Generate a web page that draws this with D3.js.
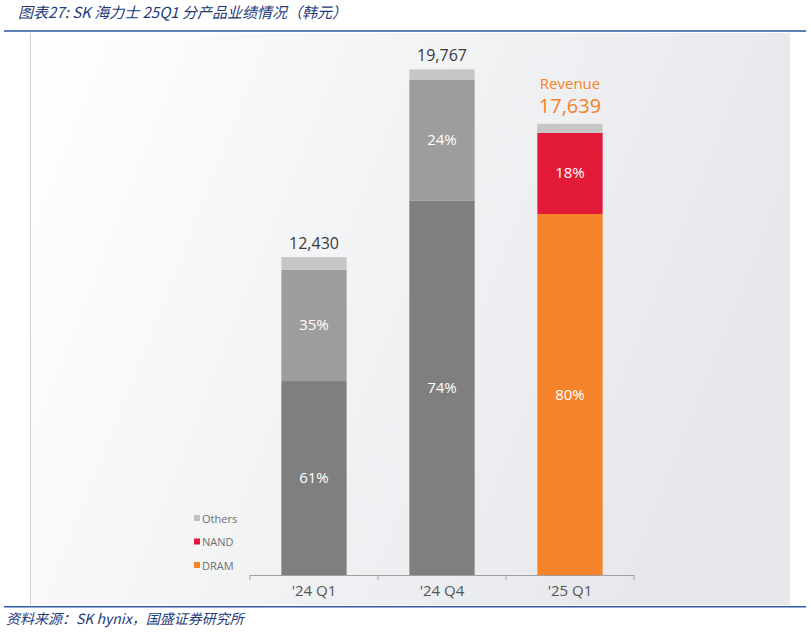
<!DOCTYPE html>
<html><head><meta charset="utf-8">
<script src="https://cdn.jsdelivr.net/npm/d3@7"></script>
<style>body{margin:0;background:#fff}svg{display:block}</style></head>
<body><svg id="c" width="811" height="634"></svg>
<script>
const categories = ["'24 Q1", "'24 Q4", "'25 Q1"];
const revenue = [12430, 19767, 17639];
const dramPct = [61, 74, 80];
const nandPct = [35, 24, 18];
const legendItems = ["Others", "NAND", "DRAM"];

const svg = d3.select("#c");
const defs = svg.append("defs");
const g1 = defs.append("linearGradient").attr("id","bg").attr("x1",0).attr("y1",0).attr("x2",1).attr("y2",0.3);
g1.append("stop").attr("offset","0").attr("stop-color","#ffffff");
g1.append("stop").attr("offset","0.55").attr("stop-color","#f1f2f4");
g1.append("stop").attr("offset","1").attr("stop-color","#e6e8eb");
svg.append("rect").attr("x",30).attr("y",33).attr("width",760).attr("height",572).attr("fill","url(#bg)");
svg.append("line").attr("x1",30.5).attr("x2",30.5).attr("y1",33).attr("y2",605).attr("stroke","#d0d0d0");

svg.append("text").attr("x",18).attr("y",18).attr("font-family","Noto Sans CJK SC").attr("font-style","italic")
  .attr("font-size",15).attr("fill","#1f3a7a").text("图表27:  SK 海力士 25Q1 分产品业绩情况（韩元）");
svg.append("rect").attr("x",4).attr("y",30).attr("width",802).attr("height",2).attr("fill","#5b7fb5");
svg.append("rect").attr("x",4).attr("y",606).attr("width",802).attr("height",1.5).attr("fill","#2f5aa8");
svg.append("text").attr("x",6).attr("y",624).attr("font-family","Noto Sans CJK SC").attr("font-style","italic")
  .attr("font-size",14).attr("fill","#1f3a7a").text("资料来源：SK hynix，国盛证券研究所");

const x = d3.scaleBand().domain(categories).range([250,634]).paddingInner(0.49).paddingOuter(0.245);
const y = d3.scaleLinear().domain([0,20000]).range([575, 575-20000*0.02558]);

const font = "Open Sans, Noto Sans, sans-serif";
categories.forEach((c,i)=>{
  const tot = revenue[i], last = i===2;
  const d = tot*dramPct[i]/100, n = tot*nandPct[i]/100;
  const segs = [
    {v0:0, v1:d, col: last?"#f5832a":"#7f7f7f", lab: dramPct[i]+"%"},
    {v0:d, v1:d+n, col: last?"#e41b38":"#9d9d9d", lab: nandPct[i]+"%"},
    {v0:d+n, v1:tot, col:"#c6c6c6", lab:null}
  ];
  segs.forEach(s=>{
    svg.append("rect").attr("x",x(c)).attr("width",x.bandwidth())
      .attr("y",y(s.v1)).attr("height",y(s.v0)-y(s.v1)).attr("fill",s.col);
    if(s.lab) svg.append("text").attr("x",x(c)+x.bandwidth()/2).attr("y",(y(s.v0)+y(s.v1))/2+5)
      .attr("text-anchor","middle").attr("font-family",font).attr("font-size",15).attr("fill","#fff").text(s.lab);
  });
  const lbl = d3.format(",")(tot);
  if(last){
    svg.append("text").attr("x",x(c)+x.bandwidth()/2).attr("y",y(tot)-35).attr("text-anchor","middle")
      .attr("font-family",font).attr("font-size",15).attr("fill","#f5832a").text("Revenue");
    svg.append("text").attr("x",x(c)+x.bandwidth()/2).attr("y",y(tot)-11).attr("text-anchor","middle")
      .attr("font-family",font).attr("font-size",20).attr("fill","#f5832a").text(lbl);
  } else {
    svg.append("text").attr("x",x(c)+x.bandwidth()/2).attr("y",y(tot)-8).attr("text-anchor","middle")
      .attr("font-family",font).attr("font-size",16).attr("fill","#3a3a3a").text(lbl);
  }
});

const ax = svg.append("g").attr("transform","translate(0,575)")
  .call(d3.axisBottom(x).tickSize(0).tickPadding(10));
ax.select(".domain").attr("stroke","#a0a0a0");
ax.selectAll("text").attr("font-family",font).attr("font-size",15).attr("fill","#555");
[0,1,2,3].forEach(k=>{
  const tx = 250 + k*x.step();
  svg.append("line").attr("x1",tx).attr("x2",tx).attr("y1",575).attr("y2",580).attr("stroke","#a0a0a0");
});
ax.select(".domain").remove();
svg.append("line").attr("x1",250).attr("x2",634).attr("y1",575.5).attr("y2",575.5).attr("stroke","#a0a0a0");

const legCols = ["#c0c0c0","#e41b38","#f5832a"];
legendItems.forEach((t,i)=>{
  const ly = 519 + i*23.5;
  svg.append("rect").attr("x",194).attr("y",ly-4).attr("width",6).attr("height",6).attr("fill",legCols[i]);
  svg.append("text").attr("x",202).attr("y",ly+3.5).attr("font-family",font).attr("font-size",11)
    .attr("fill","#707070").text(t);
});
</script></body></html>
